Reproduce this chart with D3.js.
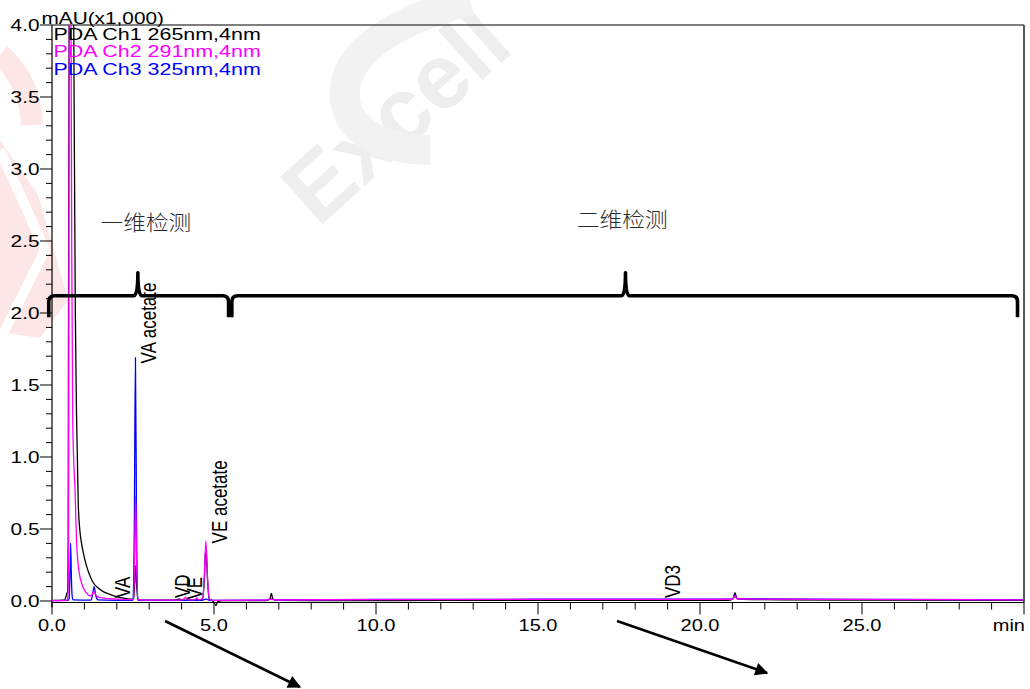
<!DOCTYPE html>
<html>
<head>
<meta charset="utf-8">
<script src="https://cdn.jsdelivr.net/npm/d3@7"></script>
<style>
  html, body { margin: 0; padding: 0; background: #ffffff; }
  svg { display: block; }
</style>
</head>
<body>
<svg id="chart" width="1030" height="689"></svg>
<script>
// ---- data: retention time (min) vs absorbance (mAU x1,000) ----
const ch1Points = [
  [0,0.004],[0.38,0.006],[0.43,0.03],[0.46,0.055],[0.48,0.06],[0.50,0.4],[0.51,2.0],[0.53,4.3],
  [0.59,4.9],[0.66,4.4],[0.68,3.6],[0.72,2.0],[0.76,1.26],[0.81,0.68],[0.86,0.49],[0.92,0.39],
  [0.97,0.33],[1.07,0.24],[1.18,0.17],[1.28,0.125],[1.40,0.095],[1.58,0.065],[1.80,0.045],
  [2.0,0.03],[2.2,0.02],[2.40,0.013],[2.52,0.014],[2.55,0.12],[2.58,0.245],[2.61,0.12],
  [2.65,0.012],[2.8,0.006],[3.5,0.006],[3.85,0.008],[3.92,0.014],[4.0,0.006],[4.5,0.008],
  [4.65,0.015],[4.70,0.15],[4.75,0.377],[4.80,0.15],[4.85,0.015],[4.95,0.004],[5.0,-0.01],
  [5.06,-0.03],[5.12,-0.005],[5.3,0.003],[6.6,0.003],[6.72,0.012],[6.77,0.053],[6.82,0.012],
  [6.95,0.004],[8,0.003],[12,0.004],[16,0.005],[20.9,0.005],[21.02,0.015],[21.08,0.058],
  [21.13,0.02],[21.3,0.012],[22.5,0.008],[25,0.006],[30,0.004]
];
const ch2Points = [
  [0,0.003],[0.45,0.005],[0.49,0.03],[0.51,0.4],[0.525,3.0],[0.545,4.7],[0.57,4.6],[0.59,3.8],
  [0.61,2.4],[0.64,1.26],[0.67,0.98],[0.71,0.78],[0.76,0.40],[0.81,0.25],[0.86,0.17],[0.92,0.12],
  [0.97,0.088],[1.05,0.06],[1.12,0.042],[1.20,0.036],[1.25,0.05],[1.30,0.065],[1.35,0.04],
  [1.45,0.025],[1.6,0.02],[2.0,0.013],[2.4,0.009],[2.52,0.012],[2.55,0.3],[2.58,0.73],[2.61,0.3],
  [2.65,0.012],[2.8,0.006],[3.9,0.006],[4.05,0.012],[4.12,0.025],[4.2,0.008],[4.4,0.008],
  [4.47,0.022],[4.53,0.008],[4.65,0.02],[4.70,0.16],[4.75,0.417],[4.80,0.16],[4.86,0.015],
  [4.95,0.005],[5.1,0.004],[6.6,0.006],[6.77,0.015],[6.9,0.007],[10,0.01],[15,0.011],[20,0.011],
  [21.0,0.012],[21.08,0.035],[21.15,0.014],[22,0.013],[25,0.011],[30,0.008]
];
const ch3Points = [
  [0,0.003],[0.50,0.004],[0.53,0.02],[0.55,0.15],[0.575,0.40],[0.60,0.15],[0.63,0.02],[0.66,0.008],
  [1.2,0.006],[1.25,0.04],[1.30,0.10],[1.35,0.04],[1.42,0.008],[2.5,0.004],[2.54,0.5],[2.575,1.69],
  [2.61,0.5],[2.65,0.004],[4.6,0.004],[4.75,0.013],[4.9,0.004],[6.6,0.006],[6.77,0.015],[6.9,0.008],
  [10,0.011],[15,0.012],[20,0.012],[21.0,0.012],[21.08,0.04],[21.15,0.015],[22,0.014],[25,0.011],
  [30,0.009]
];
const channelNames = ["PDA Ch1 265nm,4nm", "PDA Ch2 291nm,4nm", "PDA Ch3 325nm,4nm"];
const channelColors = ["#000000", "#ff00ff", "#0000ff"];

const yMajorTicks = [0, 0.5, 1.0, 1.5, 2.0, 2.5, 3.0, 3.5, 4.0];
const yTickLabels = ["0.0", "0.5", "1.0", "1.5", "2.0", "2.5", "3.0", "3.5", "4.0"];
const xMajorTicks = [0, 5, 10, 15, 20, 25, 30];
const xTickLabels = ["0.0", "5.0", "10.0", "15.0", "20.0", "25.0", "min"];
const yUnitLabel = "mAU(x1,000)";

// peak name annotations: time of text baseline, level where text starts
const peakNames = ["VA", "VA acetate", "VD", "VE", "VE acetate", "VD3"];
const peakLabelTimes = [2.41, 3.21, 4.26, 4.63, 5.40, 19.38];
const peakLabelLevels = [0.02, 1.65, 0.02, 0.01, 0.40, 0.02];

// detection stages (braces)
const stageNames = ["一维检测", "二维检测"];
const stageStart = [-0.1, 5.55];
const stageEnd = [5.45, 29.8];
const stageTip = [2.65, 17.7];
const stageLabelTimes = [1.5, 16.2];
const stageLabelLevels = [2.63, 2.65];

// ---- layout ----
const svg = d3.select("#chart");
const W = 1030, H = 689;
const plot = { left: 52, right: 1024, top: 25, bottom: 601 };
const axisY = 602.5;
const SX = 1.34; // horizontal stretch of the instrument's text
const FS = 16;
const FONT = "'Liberation Sans', Arial, sans-serif";

const x = d3.scaleLinear().domain([0, 30]).range([plot.left, plot.right]);
const y = d3.scaleLinear().domain([0, 4]).range([plot.bottom, plot.top]);

svg.append("rect").attr("width", W).attr("height", H).attr("fill", "#fff");

// faint background mark
const wm = svg.append("g").attr("class", "backdrop");
wm.append("path")
  .attr("d", "M 0 140 L 38 195 L 68 300 L 40 338 L 0 332 Z")
  .attr("fill", "#fde6e6");
wm.append("path")
  .attr("d", "M 0 150 L 45 250 L 0 340")
  .attr("fill", "none").attr("stroke", "#ffffff").attr("stroke-width", 10);
wm.append("path")
  .attr("d", "M 0 55 Q 30 80 32 125")
  .attr("fill", "none").attr("stroke", "#fde6e6").attr("stroke-width", 22);
wm.append("text")
  .attr("transform", "translate(318,228) rotate(-42)")
  .attr("font-family", FONT).attr("font-weight", "bold").attr("font-size", 92)
  .attr("fill", "#eeeeee").text("Excell");
wm.append("path")
  .attr("d", "M 470 0 C 400 20 340 50 345 100 C 350 140 400 150 430 150")
  .attr("fill", "none").attr("stroke", "#f2f2f2").attr("stroke-width", 30);

function stretchedText(parent, px, py, str, opts) {
  const g = parent.append("g").attr("transform", `translate(${px},${py}) scale(${opts.sx || SX},1)`);
  return g.append("text")
    .attr("x", 0).attr("y", 0)
    .attr("text-anchor", opts.anchor || "start")
    .attr("font-family", opts.family || FONT)
    .attr("font-size", opts.size || FS)
    .attr("fill", opts.color || "#000")
    .text(str);
}

// ---- frame ----
const frame = svg.append("g").attr("class", "frame");
frame.append("line").attr("x1", plot.left).attr("x2", plot.right).attr("y1", plot.top).attr("y2", plot.top)
  .attr("stroke", "#000").attr("stroke-width", 1.2);
frame.append("line").attr("x1", plot.right).attr("x2", plot.right).attr("y1", plot.top).attr("y2", axisY)
  .attr("stroke", "#222").attr("stroke-width", 1.5);

// ---- y axis ----
const yAxis = svg.append("g").attr("class", "y-axis");
yAxis.append("line").attr("x1", plot.left).attr("x2", plot.left).attr("y1", plot.top).attr("y2", axisY + 5)
  .attr("stroke", "#000").attr("stroke-width", 1.2);
const yMinor = d3.range(0, 41).map(i => i / 10);
yAxis.selectAll("line.minor").data(yMinor).join("line").attr("class", "minor")
  .attr("x1", d => plot.left - (Math.abs(d * 2 - Math.round(d * 2)) < 1e-6 ? 12 : 6))
  .attr("x2", plot.left)
  .attr("y1", d => y(d)).attr("y2", d => y(d))
  .attr("stroke", "#000").attr("stroke-width", 1);
yMajorTicks.forEach((v, i) => {
  stretchedText(yAxis, 39.5, y(v) + 5.8, yTickLabels[i], { anchor: "end", sx: 1.3 });
});
stretchedText(svg, 41.5, 23.5, yUnitLabel, { sx: 1.3 });

// ---- x axis ----
const xAxis = svg.append("g").attr("class", "x-axis");
xAxis.append("line").attr("x1", plot.left).attr("x2", plot.right).attr("y1", axisY).attr("y2", axisY)
  .attr("stroke", "#000").attr("stroke-width", 1.2);
const xMinor = d3.range(0, 31);
xAxis.selectAll("line.minor").data(xMinor).join("line").attr("class", "minor")
  .attr("x1", d => x(d)).attr("x2", d => x(d))
  .attr("y1", axisY).attr("y2", d => axisY + (d % 5 === 0 ? 12 : 7))
  .attr("stroke", "#000").attr("stroke-width", 1);
xMajorTicks.forEach((v, i) => {
  const last = i === xMajorTicks.length - 1;
  stretchedText(xAxis, last ? x(v) + 1 : x(v), 631, xTickLabels[i],
    { anchor: last ? "end" : "middle", sx: 1.25 });
});

// ---- traces ----
svg.append("clipPath").attr("id", "plot-clip")
  .append("rect").attr("x", plot.left).attr("y", plot.top)
  .attr("width", plot.right - plot.left).attr("height", axisY + 8 - plot.top);

const line = d3.line().x(d => x(d[0])).y(d => y(d[1])).curve(d3.curveMonotoneX);
const traces = svg.append("g").attr("clip-path", "url(#plot-clip)");
const series = [ch1Points, ch2Points, ch3Points];
[0, 2, 1].forEach(i => {
  traces.append("path").datum(series[i])
    .attr("d", line).attr("fill", "none")
    .attr("stroke", channelColors[i]).attr("stroke-width", 1.3)
    .attr("stroke-linejoin", "round");
});

// ---- legend ----
channelNames.forEach((name, i) => {
  stretchedText(svg, 53.5, 39.5 + i * 17.6, name, { color: channelColors[i] });
});

// ---- peak labels ----
peakNames.forEach((name, i) => {
  const px = x(peakLabelTimes[i]), py = y(peakLabelLevels[i]);
  svg.append("g").attr("transform", `translate(${px},${py}) scale(${SX},1) rotate(-90)`)
    .append("text").attr("font-family", FONT).attr("font-size", 17)
    .attr("fill", "#000").text(name);
});

// ---- stage braces ----
function bracePath(x0, x1, xt, yl, yEnd, yTip) {
  const r = 6, rt = 4;
  return `M ${x0} ${yEnd} L ${x0} ${yl + r} Q ${x0} ${yl} ${x0 + r} ${yl}` +
         ` L ${xt - rt} ${yl} Q ${xt} ${yl} ${xt} ${yTip} Q ${xt} ${yl} ${xt + rt} ${yl}` +
         ` L ${x1 - r} ${yl} Q ${x1} ${yl} ${x1} ${yl + r} L ${x1} ${yEnd}`;
}
stageNames.forEach((name, i) => {
  svg.append("path")
    .attr("d", bracePath(x(stageStart[i]), x(stageEnd[i]), x(stageTip[i]), y(2.12), y(1.97), y(2.28)))
    .attr("fill", "none").attr("stroke", "#000").attr("stroke-width", 3.6)
    .attr("stroke-linejoin", "round").attr("stroke-linecap", "butt");
  stretchedText(svg, x(stageLabelTimes[i]), y(stageLabelLevels[i]) + 8, name,
    { family: "'Noto Sans CJK SC', sans-serif", size: 21, sx: 1.08, color: "#2a2a2a" })
    .attr("font-weight", 300);
});

// ---- arrows below the axis ----
const arrowFrom = [[3.49, 621], [17.44, 621]];
const arrowTo = [[7.65, 687], [22.07, 673]];
svg.append("defs").append("marker")
  .attr("id", "arrow-head").attr("viewBox", "0 0 10 10").attr("refX", 9).attr("refY", 5)
  .attr("markerWidth", 6).attr("markerHeight", 5).attr("orient", "auto")
  .attr("markerUnits", "strokeWidth")
  .append("path").attr("d", "M 0 0 L 10 5 L 0 10 Z").attr("fill", "#000");
arrowFrom.forEach((a, i) => {
  svg.append("line")
    .attr("x1", x(a[0])).attr("y1", a[1])
    .attr("x2", x(arrowTo[i][0])).attr("y2", arrowTo[i][1])
    .attr("stroke", "#000").attr("stroke-width", 2.6)
    .attr("marker-end", "url(#arrow-head)");
});
</script>
</body>
</html>
